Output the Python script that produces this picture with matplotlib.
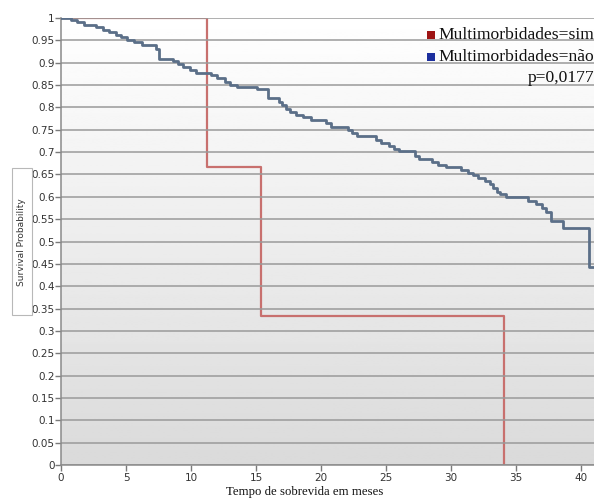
import numpy as np
import matplotlib
matplotlib.use("Agg")
import matplotlib.pyplot as plt
from matplotlib.patches import Rectangle

# Kaplan-Meier step data (time in months, survival probability after each step)
times_nao = [0, 0.8, 1.2, 1.8, 2.7, 3.2, 3.7, 4.2, 4.6, 5.1, 5.6, 6.2, 7.3, 7.5,
             8.6, 9.0, 9.4, 9.9, 10.4, 11.5, 12.0, 12.6, 13.0, 13.5, 15.1, 15.9,
             16.8, 17.0, 17.3, 17.6, 18.1, 18.6, 19.2, 20.4, 20.8, 22.1, 22.4,
             22.8, 24.2, 24.6, 25.2, 25.6, 26.0, 27.2, 27.5, 28.5, 29.0, 29.6,
             30.8, 31.3, 31.7, 32.1, 32.6, 33.0, 33.2, 33.5, 33.8, 34.2, 35.9,
             36.5, 37.0, 37.3, 37.7, 38.6, 40.6, 41.0]
surv_nao = [1.0, 0.995, 0.99, 0.984, 0.979, 0.973, 0.968, 0.962, 0.957, 0.951,
            0.946, 0.940, 0.930, 0.909, 0.903, 0.897, 0.890, 0.884, 0.878, 0.872,
            0.866, 0.856, 0.850, 0.846, 0.841, 0.821, 0.813, 0.805, 0.797, 0.790,
            0.784, 0.778, 0.772, 0.765, 0.757, 0.750, 0.743, 0.736, 0.728, 0.721,
            0.713, 0.706, 0.702, 0.691, 0.685, 0.678, 0.672, 0.667, 0.661, 0.654,
            0.648, 0.642, 0.636, 0.628, 0.620, 0.611, 0.606, 0.600, 0.590, 0.584,
            0.576, 0.566, 0.545, 0.530, 0.443, 0.443]

times_sim = [0, 11.2, 15.4, 34.1]
surv_sim = [1.0, 2 / 3, 1 / 3, 0.0]

legend_labels = ["Multimorbidades=sim", "Multimorbidades=não"]
p_value_text = "p=0,0177"
x_ticks = [0, 5, 10, 15, 20, 25, 30, 35, 40]
y_ticks = np.round(np.arange(0, 1.0001, 0.05), 2)

fig = plt.figure(figsize=(5.94, 5.01), dpi=100)
ax = fig.add_axes([61 / 594, 36 / 501, 533 / 594, 447 / 501])

ax.set_xlim(0, 41)
ax.set_ylim(0, 1)

# vertical gradient background: white at top to light grey at bottom
grad = np.linspace(0.855, 1.0, 256).reshape(-1, 1)
ax.imshow(grad, extent=[0, 1, 0, 1], transform=ax.transAxes, cmap="gray",
          vmin=0, vmax=1, aspect="auto", origin="lower", zorder=0)
ax.set_facecolor("white")

for y in y_ticks:
    ax.axhline(y, color="#9a9a9a", lw=1.1, zorder=2)

ax.step(times_sim, surv_sim, where="post", color="#c8706e", lw=1.6, zorder=1.5)
ax.step(times_nao, surv_nao, where="post", color="#5b6f88", lw=2.0, zorder=4)

ax.set_xticks(x_ticks)
ax.set_yticks(y_ticks)
ax.set_yticklabels([("%g" % v) for v in y_ticks])
ax.tick_params(axis="both", colors="#7a7a7a", labelcolor="#333333",
               labelsize=7.5, length=4, width=1)
ax.tick_params(axis="y", pad=0.5)
ax.tick_params(axis="x", pad=2)

for side in ["top", "right"]:
    ax.spines[side].set_visible(False)
for side in ["left", "bottom"]:
    ax.spines[side].set_color("#8a8a8a")
    ax.spines[side].set_linewidth(1.1)

# x-axis title
fig.text(305 / 594, 1 - 492 / 501, "Tempo de sobrevida em meses",
         family="Liberation Serif", fontsize=9.2, ha="center", va="center",
         color="#111111")

# y-axis title in a box
fig.patches.append(Rectangle((12 / 594, 1 - 315 / 501), 20 / 594, 147 / 501,
                             transform=fig.transFigure, fc="white",
                             ec="#b8b8b8", lw=0.8))
fig.text(22 / 594, 1 - 242 / 501, "Survival Probability", rotation=90,
         fontsize=6.5, ha="center", va="center", color="#333333")

# legend entries with colored squares
legend_colors = ["#9e1414", "#1c2f9e"]
legend_y = [35, 57]
for lab, col, yy in zip(legend_labels, legend_colors, legend_y):
    fig.text(594 / 594, 1 - yy / 501, lab, family="Liberation Serif",
             fontsize=12.6, ha="right", va="center", color="#111111")
    fig.patches.append(Rectangle((427 / 594, 1 - (yy + 4) / 501), 8 / 594, 8 / 501,
                                 transform=fig.transFigure, fc=col, ec="none"))
fig.text(594 / 594, 1 - 78 / 501, p_value_text, family="Liberation Serif",
         fontsize=12.6, ha="right", va="center", color="#111111")

fig.savefig("out.png", dpi=100)
